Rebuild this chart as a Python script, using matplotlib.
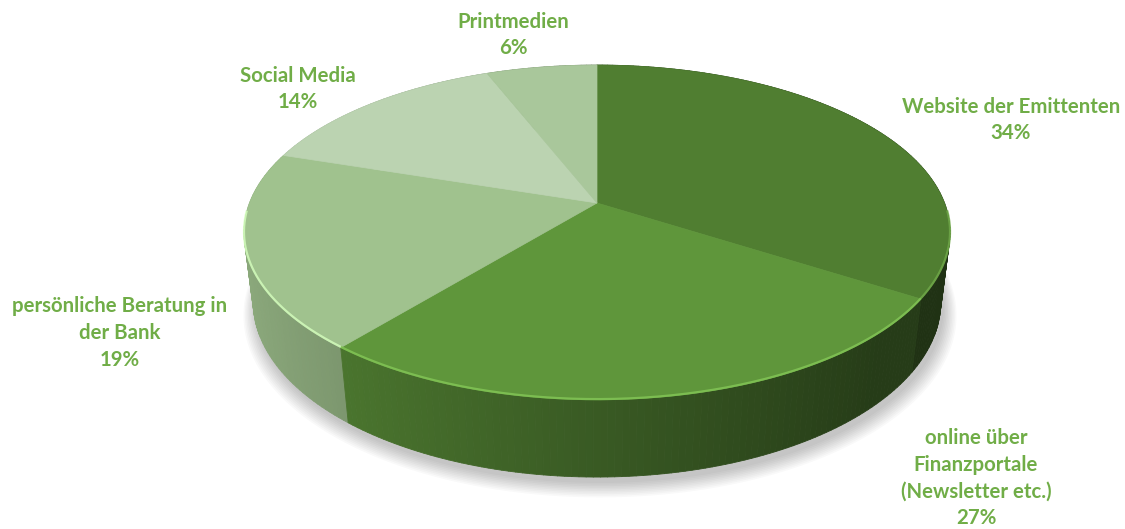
import numpy as np
import matplotlib.pyplot as plt
from matplotlib.patches import Polygon
from matplotlib.collections import PolyCollection
from matplotlib.colors import to_rgb

# ---------------------------------------------------------------------
# data
# ---------------------------------------------------------------------
categories = ['Website der Emittenten',
              'online über\nFinanzportale\n(Newsletter etc.)',
              'persönliche Beratung in\nder Bank',
              'Social Media',
              'Printmedien']
shares = [34, 27, 19, 14, 6]
top_colors = ['#507e31', '#5f963b', '#a0c28e', '#bbd3b1', '#a9c79b']

# ---------------------------------------------------------------------
# layout (pixel space) - perspective projection of a flat cylinder
# ---------------------------------------------------------------------
W, H = 1125, 529
cx, cy = 597, 203       # projected pie centre
a_x, b_y = 347.5, 126.5  # radius scales
k_persp, m_persp = 0.176, 0.026
depth = 76.0
label_xy = [(1011, 120), (976, 478), (120, 333), (298, 89), (513, 35)]
label_color = '#70ad47'


def project(x, y, z):
    w = 1 + k_persp * y - m_persp * z
    px = cx + a_x * x / w
    py = -((b_y * y - cy + depth * z) / w)
    return px, py


def shade(t):
    return np.clip(0.6 - 0.28 * np.cos(t), 0.40, 0.88)


fig = plt.figure(figsize=(W / 100, H / 100), dpi=100)
ax = fig.add_axes([0, 0, 1, 1])
ax.set_xlim(0, W)
ax.set_ylim(H, 0)
ax.axis('off')

# wedge angles, clockwise from 12 o'clock
cum = np.concatenate([[0], np.cumsum(shares)]) / float(sum(shares))
t_start = np.pi / 2 - 2 * np.pi * cum[:-1]
t_end = np.pi / 2 - 2 * np.pi * cum[1:]

# soft shadow under the bottom face
tt = np.linspace(0, 2 * np.pi, 300)
for i in range(10):
    grow = 1.0 + 0.004 * i
    sx, sy = project(np.cos(tt) * grow, np.sin(tt) * grow, -1.0)
    ax.add_patch(Polygon(np.column_stack([sx + 3, sy + 6 + i * 0.6]), closed=True,
                         facecolor='black', edgecolor='none', alpha=0.025))

# side walls
quads, cols, order = [], [], []
for i in range(len(shares)):
    n = max(int(abs(t_end[i] - t_start[i]) / (2 * np.pi) * 360), 2)
    ts = np.linspace(t_start[i], t_end[i], n + 1)
    base = np.array(to_rgb(top_colors[i]))
    for t0, t1 in zip(ts[:-1], ts[1:]):
        x0, y0 = project(np.cos(t0), np.sin(t0), 0)
        x1, y1 = project(np.cos(t1), np.sin(t1), 0)
        x2, y2 = project(np.cos(t1), np.sin(t1), -1)
        x3, y3 = project(np.cos(t0), np.sin(t0), -1)
        quads.append([(x0, y0), (x1, y1), (x2, y2), (x3, y3)])
        tm = 0.5 * (t0 + t1)
        cols.append(base * shade(tm))
        order.append(-np.sin(tm))
idx = np.argsort(order)
walls = PolyCollection([quads[j] for j in idx], facecolors=[cols[j] for j in idx],
                       edgecolors=[cols[j] for j in idx], linewidths=0.6)
ax.add_collection(walls)

# top faces
for i in range(len(shares)):
    ts = np.linspace(t_start[i], t_end[i], 200)
    px, py = project(np.cos(ts), np.sin(ts), 0)
    pts = np.vstack([[project(0, 0, 0)], np.column_stack([px, py])])
    ax.add_patch(Polygon(pts, closed=True, facecolor=top_colors[i],
                         edgecolor=top_colors[i], linewidth=0.5))
    # light bevel along the front rim
    front = np.sin(ts) < -0.05
    if front.any():
        rim = np.clip(np.array(to_rgb(top_colors[i])) * 1.25 + 0.05, 0, 1)
        ax.plot(px[front], py[front] - 0.8, color=rim, linewidth=1.6,
                alpha=0.8, solid_capstyle='butt')

# labels
for i in range(len(shares)):
    ax.text(label_xy[i][0], label_xy[i][1],
            '{0}\n{1}%'.format(categories[i], shares[i]),
            ha='center', va='center', color=label_color, fontsize=14.7,
            fontweight='bold', family='Lato', linespacing=1.42)

plt.savefig('out.png', dpi=100)
plt.close(fig)
